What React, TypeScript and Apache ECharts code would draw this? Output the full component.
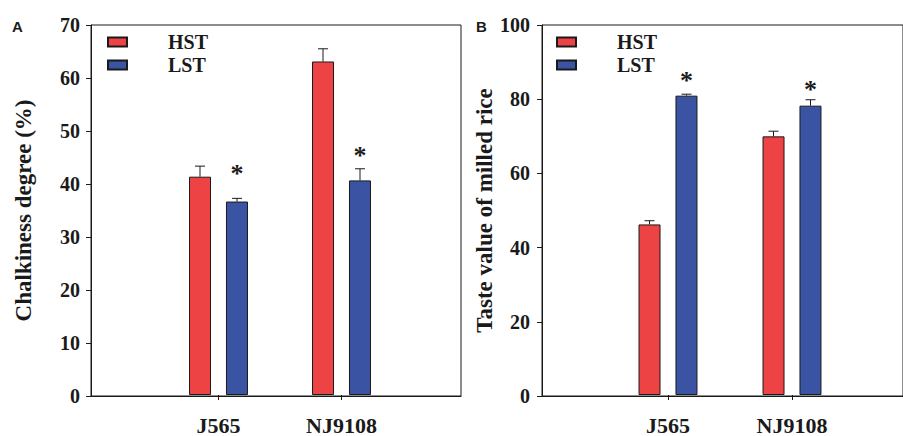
import React, { useEffect, useRef } from "react";
import * as echarts from "echarts";

const categories = ["J565", "NJ9108"];
const seriesNames = ["HST", "LST"];

// Panel A: Chalkiness degree (%)
const chalkHST = [41.3, 63.1];
const chalkHSTErr = [2.0, 2.4];
const chalkLST = [36.6, 40.6];
const chalkLSTErr = [0.6, 2.2];
const chalkStarY = [42.0, 45.3];
const chalkTicks = [0, 10, 20, 30, 40, 50, 60, 70];

// Panel B: Taste value of milled rice
const tasteHST = [46.1, 69.9];
const tasteHSTErr = [1.0, 1.4];
const tasteLST = [80.9, 78.2];
const tasteLSTErr = [0.4, 1.6];
const tasteStarY = [85.0, 82.5];
const tasteTicks = [0, 20, 40, 60, 80, 100];

const RED = "#EE4344";
const BLUE = "#3A53A3";
const INK = "#1a1a1a";
const SERIF = "'Liberation Serif', 'Times New Roman', serif";

const BAR_W = 22;
const HALF = 18.5;

function errRender(offset: number) {
  return (params: any, api: any) => {
    const x = api.value(0);
    const m = api.value(1);
    const e = api.value(2);
    const s = api.value(3);
    const base = api.coord([x, m]);
    const top = api.coord([x, m + e]);
    const cx = base[0] + offset;
    const children: any[] = [
      { type: "line", shape: { x1: cx, y1: base[1], x2: cx, y2: top[1] }, style: { stroke: INK, lineWidth: 1 } },
      { type: "line", shape: { x1: cx - 5, y1: top[1], x2: cx + 5, y2: top[1] }, style: { stroke: INK, lineWidth: 1 } },
    ];
    if (typeof s === "number" && isFinite(s)) {
      const sp = api.coord([x, s]);
      children.push({
        type: "text",
        x: cx,
        y: sp[1],
        style: { text: "*", fill: INK, font: `bold 26px ${SERIF}`, align: "center", verticalAlign: "middle" },
      });
    }
    return { type: "group", children };
  };
}

function errData(means: number[], errs: number[], stars: (number | null)[]) {
  return categories.map((_, i) => [i, means[i], errs[i], stars[i] == null ? NaN : stars[i]]);
}

function panel(
  frameGrid: number,
  barGrid: number,
  ticks: number[],
  name: string,
  nameGap: number,
  labelMargin: number
) {
  const max = ticks[ticks.length - 1];
  const interval = ticks[1] - ticks[0];
  const xAxes = [
    {
      type: "value",
      gridIndex: frameGrid,
      min: 0,
      max: 1,
      axisLine: { show: true, lineStyle: { color: INK, width: 1 } },
      axisTick: { show: false },
      axisLabel: { show: false },
      splitLine: { show: false },
    },
    {
      type: "category",
      gridIndex: barGrid,
      data: categories,
      axisLine: { show: false },
      axisTick: { show: true, alignWithLabel: true, length: 5, lineStyle: { color: INK } },
      axisLabel: { color: INK, fontFamily: SERIF, fontWeight: "bold", fontSize: 22, margin: 19 },
      splitLine: { show: false },
    },
  ];
  const yAxes = [
    {
      type: "value",
      gridIndex: frameGrid,
      min: 0,
      max,
      interval,
      name,
      nameLocation: "middle",
      nameGap,
      nameTextStyle: { color: INK, fontFamily: SERIF, fontWeight: "bold", fontSize: 23 },
      axisLine: { show: true, lineStyle: { color: INK, width: 1 } },
      axisTick: { show: true, length: 5, lineStyle: { color: INK } },
      axisLabel: { color: INK, fontFamily: SERIF, fontWeight: "bold", fontSize: 20, margin: labelMargin },
      splitLine: { show: false },
    },
    {
      type: "value",
      gridIndex: barGrid,
      min: 0,
      max,
      interval,
      show: false,
      splitLine: { show: false },
    },
  ];
  return { xAxes, yAxes };
}

export default function App() {
  const ref = useRef<HTMLDivElement>(null);
  useEffect(() => {
    if (!ref.current) return;
    const chart = echarts.init(ref.current, null, { renderer: "svg" });
    const A = panel(0, 1, chalkTicks, "Chalkiness degree (%)", 56, 11);
    const B = panel(2, 3, tasteTicks, "Taste value of milled rice", 42, 12);

    const barSeries = (name: string, data: number[], color: string, xi: number) => ({
      type: "bar",
      name,
      xAxisIndex: xi,
      yAxisIndex: xi,
      data,
      barWidth: BAR_W,
      barGap: "68%",
      itemStyle: { color, borderColor: INK, borderWidth: 1 },
      z: 2,
    });
    const errSeries = (name: string, means: number[], errs: number[], stars: (number | null)[], offset: number, xi: number) => ({
      type: "custom",
      name,
      xAxisIndex: xi,
      yAxisIndex: xi,
      data: errData(means, errs, stars),
      renderItem: errRender(offset),
      clip: false,
      z: 3,
    });

    const legendBase = {
      orient: "vertical",
      itemWidth: 19,
      itemHeight: 9,
      itemGap: 3,
      icon: "rect",
      selectedMode: false,
      data: seriesNames,
      textStyle: { color: INK, fontFamily: SERIF, fontWeight: "bold", fontSize: 20, padding: [0, 0, 0, 36] },
    };

    chart.setOption({
      animation: false,
      backgroundColor: "#ffffff",
      grid: [
        { left: 91, top: 25, width: 370, height: 371, show: true, borderColor: INK, borderWidth: 1, backgroundColor: "transparent" },
        { left: 157, top: 25, width: 246, height: 371 },
        { left: 542, top: 25, width: 420, height: 371, show: true, borderColor: INK, borderWidth: 1, backgroundColor: "transparent" },
        { left: 606, top: 25, width: 248, height: 371 },
      ],
      xAxis: [...A.xAxes, ...B.xAxes],
      yAxis: [...A.yAxes, ...B.yAxes],
      legend: [
        { ...legendBase, left: 102, top: 27 },
        { ...legendBase, left: 551, top: 27 },
      ],
      graphic: [
        { type: "text", left: 12, top: 19, style: { text: "A", fill: INK, font: "bold 15px 'Liberation Sans', Arial, sans-serif" } },
        { type: "text", left: 476, top: 19, style: { text: "B", fill: INK, font: "bold 15px 'Liberation Sans', Arial, sans-serif" } },
      ],
      series: [
        barSeries(seriesNames[0], chalkHST, RED, 1),
        barSeries(seriesNames[1], chalkLST, BLUE, 1),
        errSeries("errA-HST", chalkHST, chalkHSTErr, [null, null], -HALF, 1),
        errSeries("errA-LST", chalkLST, chalkLSTErr, chalkStarY, HALF, 1),
        barSeries(seriesNames[0], tasteHST, RED, 3),
        barSeries(seriesNames[1], tasteLST, BLUE, 3),
        errSeries("errB-HST", tasteHST, tasteHSTErr, [null, null], -HALF, 3),
        errSeries("errB-LST", tasteLST, tasteLSTErr, tasteStarY, HALF, 3),
      ],
    });
    return () => chart.dispose();
  }, []);
  return <div ref={ref} style={{ position: "fixed", left: 0, top: 0, width: 903, height: 436 }} />;
}
